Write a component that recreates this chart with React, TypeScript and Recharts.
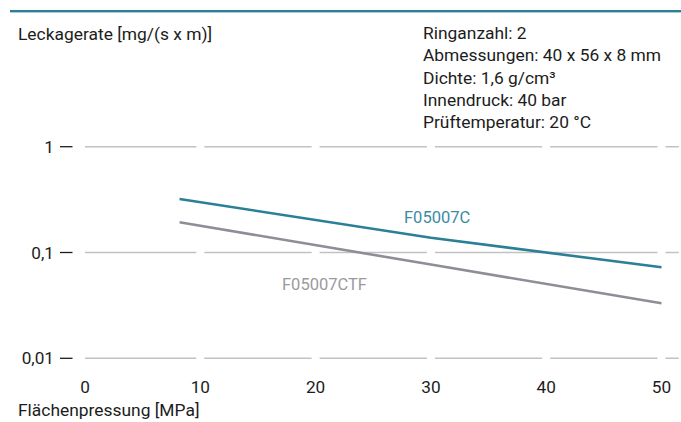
import React from "react";
import { LineChart, Line, XAxis, YAxis, CartesianGrid } from "recharts";

// ---- data ----
const X_VALUES = [8.2, 30, 50]; // Flächenpressung [MPa]
const F05007C = [0.32, 0.138, 0.0725]; // Leckagerate [mg/(s x m)]
const F05007CTF = [0.193, 0.077, 0.0331];
const X_TICKS = [0, 10, 20, 30, 40, 50];
const Y_TICKS = [0.01, 0.1, 1];
const X_DOMAIN = [0, 51.5];
const Y_DOMAIN = [0.01, 1];
const INFO_LINES = [
  "Ringanzahl: 2",
  "Abmessungen: 40 x 56 x 8 mm",
  "Dichte: 1,6 g/cm³",
  "Innendruck: 40 bar",
  "Prüftemperatur: 20 °C",
];
const Y_TITLE = "Leckagerate [mg/(s x m)]";
const X_TITLE = "Flächenpressung [MPa]";

const data = X_VALUES.map((x, i) => ({
  x,
  c: F05007C[i],
  ctf: F05007CTF[i],
}));

// ---- style ----
const W = 681;
const H = 422;
const FONT = "Roboto, 'Noto Sans', sans-serif";
const FS = 17.4;
const FS_TICK = 17.2;
const FS_SERIES = 16.5;
const TEXT = "#1c1c1c";
const TEAL = "#2b7f96";
const TEAL_TXT = "#3b8ca3";
const GREY = "#8e8e97";
const GREY_TXT = "#9a9a9e";
const GRID = "#c2c2c2";
const MARGIN = { top: 146.7, right: 2.2, bottom: 0, left: 0 };
const Y_AXIS_W = 85;
const X_AXIS_H = 63.7;

const plotW = W - MARGIN.left - MARGIN.right - Y_AXIS_W;
const tickStep = (plotW / (X_DOMAIN[1] - X_DOMAIN[0])) * 10;
const gap = 8;
const dashParts: number[] = [tickStep - gap / 2];
for (let i = 0; i < 6; i++) {
  dashParts.push(gap, tickStep - gap);
}
const gridDash = dashParts.map((d) => d.toFixed(2)).join(" ");

const fmt = (v: number) => String(v).replace(".", ",");

const YTick = (props: any) => {
  const { x, y, payload } = props;
  return (
    <g>
      <text
        x={x - 31}
        y={y}
        dy="0.355em"
        textAnchor="end"
        fill={TEXT}
        fontFamily={FONT}
        fontSize={FS_TICK}
      >
        {fmt(payload.value)}
      </text>
      <line
        x1={x - 25}
        x2={x - 12.5}
        y1={y}
        y2={y}
        stroke={TEXT}
        strokeWidth={1.3}
      />
    </g>
  );
};

const XTick = (props: any) => {
  const { x, y, payload } = props;
  return (
    <text
      x={x}
      y={y + 34.4}
      textAnchor="middle"
      fill={TEXT}
      fontFamily={FONT}
      fontSize={FS_TICK}
    >
      {fmt(payload.value)}
    </text>
  );
};

export default function App() {
  return (
    <div
      style={{
        position: "absolute",
        left: 0,
        top: 0,
        width: W,
        height: H,
        background: "#fff",
      }}
    >
      <LineChart width={W} height={H} data={data} margin={MARGIN}>
        <CartesianGrid
          vertical={false}
          stroke={GRID}
          strokeWidth={1.5}
          strokeDasharray={gridDash}
        />
        <XAxis
          dataKey="x"
          type="number"
          domain={X_DOMAIN}
          ticks={X_TICKS}
          allowDataOverflow
          axisLine={false}
          tickLine={false}
          tickSize={0}
          tickMargin={0}
          height={X_AXIS_H}
          tick={<XTick />}
          interval={0}
        />
        <YAxis
          type="number"
          scale="log"
          domain={Y_DOMAIN}
          ticks={Y_TICKS}
          allowDataOverflow
          axisLine={false}
          tickLine={false}
          tickSize={0}
          tickMargin={0}
          width={Y_AXIS_W}
          tick={<YTick />}
          interval={0}
        />
        <Line
          dataKey="c"
          type="linear"
          stroke={TEAL}
          strokeWidth={2.6}
          dot={false}
          isAnimationActive={false}
        />
        <Line
          dataKey="ctf"
          type="linear"
          stroke={GREY}
          strokeWidth={2.6}
          dot={false}
          isAnimationActive={false}
        />
      </LineChart>
      <svg
        width={W}
        height={H}
        style={{ position: "absolute", left: 0, top: 0, pointerEvents: "none" }}
        fontFamily={FONT}
        fontSize={FS}
      >
        <rect x={10} y={10} width={W - 10} height={2.4} fill={TEAL} />
        <text x={18} y={40} fill={TEXT}>
          {Y_TITLE}
        </text>
        {INFO_LINES.map((t, i) => (
          <text key={t} x={423} y={39 + i * 22.3} fill={TEXT}>
            {t}
          </text>
        ))}
        <text x={404} y={223} fill={TEAL_TXT} fontSize={FS_SERIES}>
          F05007C
        </text>
        <text x={282} y={289.5} fill={GREY_TXT} fontSize={FS_SERIES}>
          F05007CTF
        </text>
        <text x={18} y={416} fill={TEXT}>
          {X_TITLE}
        </text>
      </svg>
    </div>
  );
}
